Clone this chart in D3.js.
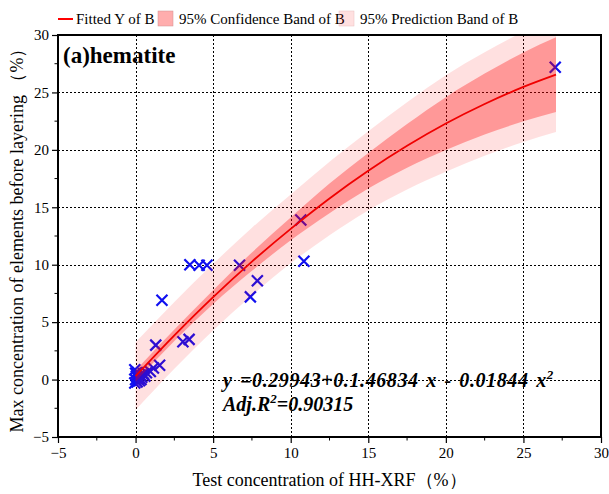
<!DOCTYPE html>
<html>
<head>
<meta charset="utf-8">
<script src="https://cdn.jsdelivr.net/npm/d3@7"></script>
<style>
  body { margin: 0; background: #fff; }
</style>
</head>
<body>
<div id="chart"></div>
<script>
let width = 609,
height = 494;

const serif = "'Liberation Serif', 'Times New Roman', Times, 'DejaVu Serif', serif";

// measured points (test conc. vs max conc.)
const pointsX = [27.05, 10.65, 10.85, 6.7, 7.85, 7.4, 3.5, 4.1, 4.6, 1.7, 1.3, 3.05, 3.45, 1.15, 1.55, 0.95,
  0.0, 0.05, -0.05, 0.1, 0.2, 0.3, 0.4, 0.5, 0.0, 0.15, 0.25, 0.6, 0.7, 0.35, -0.05];
const pointsY = [27.2, 13.9, 10.3, 9.95, 8.6, 7.2, 10.0, 9.95, 9.95, 6.9, 3.0, 3.3, 3.5, 1.0, 1.25, 0.7,
  0.0, 0.3, 0.85, -0.2, 0.1, 0.4, 0.2, 0.5, 0.55, 0.6, -0.1, 0.3, 0.6, 0.0, -0.3];

// fitted curve and bands
const bandX   = [0, 2.5, 5, 7.5, 10, 12.5, 15, 17.5, 20, 22.5, 25, 27.1];
const fitY    = [0.30, 3.85, 7.18, 10.27, 13.12, 15.77, 18.18, 20.35, 22.29, 23.99, 25.48, 26.55];
const confLow = [-0.2, 3.35, 6.58, 9.47, 12.12, 14.47, 16.63, 18.45, 19.99, 21.34, 22.48, 23.3];
const confUp  = [0.8, 4.35, 7.78, 11.07, 14.12, 17.07, 19.73, 22.25, 24.59, 26.64, 28.48, 29.8];
const predLow = [-2.65, 0.95, 4.28, 7.32, 10.12, 12.57, 14.73, 16.55, 18.09, 19.49, 20.68, 21.55];
const predUp  = [3.25, 6.75, 10.08, 13.22, 16.12, 18.97, 21.63, 24.15, 26.49, 28.49, 30.28, 31.55];

const xTicks = [-5, 0, 5, 10, 15, 20, 25, 30];
const yTicks = [-5, 0, 5, 10, 15, 20, 25, 30];

let margin = {left: 58, right: 8, top: 35, bottom: 57};

let svg = d3.select("#chart")
.append("svg")
.attr("width", width)
.attr("height", height);

let x = d3.scaleLinear().domain([-5, 30]).range([margin.left, width - margin.right]);
let y = d3.scaleLinear().domain([-5, 30]).range([height - margin.bottom, margin.top]);

svg.append("clipPath").attr("id", "plot")
  .append("rect")
  .attr("x", x(-5)).attr("y", y(30))
  .attr("width", x(30) - x(-5)).attr("height", y(-5) - y(30));

// dotted grid
let grid = svg.append("g").attr("shape-rendering", "crispEdges");
grid.selectAll(".gx").data(xTicks.slice(1, -1)).join("line")
  .attr("x1", d => Math.round(x(d)) + 0.5).attr("x2", d => Math.round(x(d)) + 0.5)
  .attr("y1", y(-5)).attr("y2", y(30))
  .attr("stroke", "#000").attr("stroke-width", 1).attr("stroke-dasharray", "2,2");
grid.selectAll(".gy").data(yTicks.slice(1, -1)).join("line")
  .attr("y1", d => Math.round(y(d)) + 0.5).attr("y2", d => Math.round(y(d)) + 0.5)
  .attr("x1", x(-5)).attr("x2", x(30))
  .attr("stroke", "#000").attr("stroke-width", 1).attr("stroke-dasharray", "2,2");

// points go under the bands (they look purple inside)
let pts = svg.append("g").attr("clip-path", "url(#plot)");
let s = 5.5;
pts.selectAll("path").data(pointsX).join("path")
  .attr("d", (d, i) => {
    let cx = x(d), cy = y(pointsY[i]);
    return `M${cx - s},${cy - s}L${cx + s},${cy + s}M${cx - s},${cy + s}L${cx + s},${cy - s}`;
  })
  .attr("stroke", "#1010f0")
  .attr("stroke-width", 2.2)
  .attr("fill", "none");

let bands = svg.append("g").attr("clip-path", "url(#plot)");

let area = (lo, hi) => d3.area()
  .x((d, i) => x(bandX[i]))
  .y0((d, i) => y(lo[i]))
  .y1((d, i) => y(hi[i]))
  .curve(d3.curveMonotoneX);

bands.append("path").datum(bandX)
  .attr("d", area(predLow, predUp))
  .attr("fill", "#ff0000").attr("fill-opacity", 0.12);
bands.append("path").datum(bandX)
  .attr("d", area(confLow, confUp))
  .attr("fill", "#ff0000").attr("fill-opacity", 0.32);

bands.append("path").datum(bandX)
  .attr("d", d3.line().x((d, i) => x(d)).y((d, i) => y(fitY[i])).curve(d3.curveMonotoneX))
  .attr("fill", "none")
  .attr("stroke", "#f00000")
  .attr("stroke-width", 1.8);

// axes
let xAxis = d3.axisBottom(x).tickValues(xTicks).tickSize(6).tickPadding(4);
let yAxis = d3.axisLeft(y).tickValues(yTicks).tickSize(6).tickPadding(3);

let gx = svg.append("g").attr("transform", `translate(0,${y(-5)})`).call(xAxis);
gx.append("g").selectAll("line").data(d3.range(-2.5, 30, 5)).join("line")
  .attr("x1", d => x(d)).attr("x2", d => x(d)).attr("y1", 0).attr("y2", 3.5)
  .attr("stroke", "#000");
let gy = svg.append("g").attr("transform", `translate(${x(-5)},0)`).call(yAxis);
gy.append("g").selectAll("line").data(d3.range(-2.5, 30, 5)).join("line")
  .attr("y1", d => y(d)).attr("y2", d => y(d)).attr("x1", 0).attr("x2", -3.5)
  .attr("stroke", "#000");

svg.selectAll(".domain").remove();
svg.selectAll(".tick text").style("font-size", "15px").attr("fill", "#000");
svg.selectAll(".tick line").attr("stroke-width", 1.2);

// frame
svg.append("rect")
  .attr("x", x(-5)).attr("y", y(30))
  .attr("width", x(30) - x(-5)).attr("height", y(-5) - y(30))
  .attr("fill", "none").attr("stroke", "#000").attr("stroke-width", 2);

// axis titles
svg.append("text")
  .attr("x", (x(-5) + x(30)) / 2).attr("y", 486)
  .attr("text-anchor", "middle").style("font-size", "18px")
  .text("Test concentration of HH-XRF（%）");
svg.append("text")
  .attr("transform", `translate(23,${(y(-5) + y(30)) / 2}) rotate(-90)`)
  .attr("text-anchor", "middle").style("font-size", "18px")
  .text("Max concentration of elements before layering （%）");

// panel title
svg.append("text").attr("x", 63).attr("y", 63)
  .style("font-size", "23px").style("font-weight", "bold")
  .text("(a)hematite");

// equation
let eq = svg.append("text").attr("x", 223).attr("y", 387)
  .style("font-size", "20px").style("font-weight", "bold").style("font-style", "italic")
  .style("letter-spacing", "0.6px").style("word-spacing", "2px");
eq.append("tspan").text("y =0.29943+0.1.46834 x - 0.01844 x");
eq.append("tspan").attr("dy", -8).style("font-size", "13px").text("2");
let r2 = svg.append("text").attr("x", 223).attr("y", 411)
  .style("font-size", "20px").style("font-weight", "bold").style("font-style", "italic");
r2.append("tspan").text("Adj.R");
r2.append("tspan").attr("dy", -8).style("font-size", "13px").text("2");
r2.append("tspan").attr("dy", 8).text("=0.90315");

// Handmade legend
svg.append("line").attr("x1", 58).attr("x2", 73).attr("y1", 19).attr("y2", 19)
  .attr("stroke", "#ff0000").attr("stroke-width", 2);
svg.append("text").attr("x", 76).attr("y", 24).text("Fitted Y of B").style("font-size", "15px");
svg.append("rect").attr("x", 158).attr("y", 11).attr("width", 15).attr("height", 15)
  .attr("fill", "#ff0000").attr("fill-opacity", 0.32).attr("stroke", "#d09090").attr("stroke-width", 0.5);
svg.append("text").attr("x", 179).attr("y", 24).text("95% Confidence Band of B").style("font-size", "15px");
svg.append("rect").attr("x", 339).attr("y", 11).attr("width", 15).attr("height", 15)
  .attr("fill", "#ff0000").attr("fill-opacity", 0.12).attr("stroke", "#e8c0c0").attr("stroke-width", 0.5);
svg.append("text").attr("x", 360).attr("y", 24).text("95% Prediction Band of B").style("font-size", "15px");

svg.selectAll("text").style("font-family", serif);
</script>
</body>
</html>
